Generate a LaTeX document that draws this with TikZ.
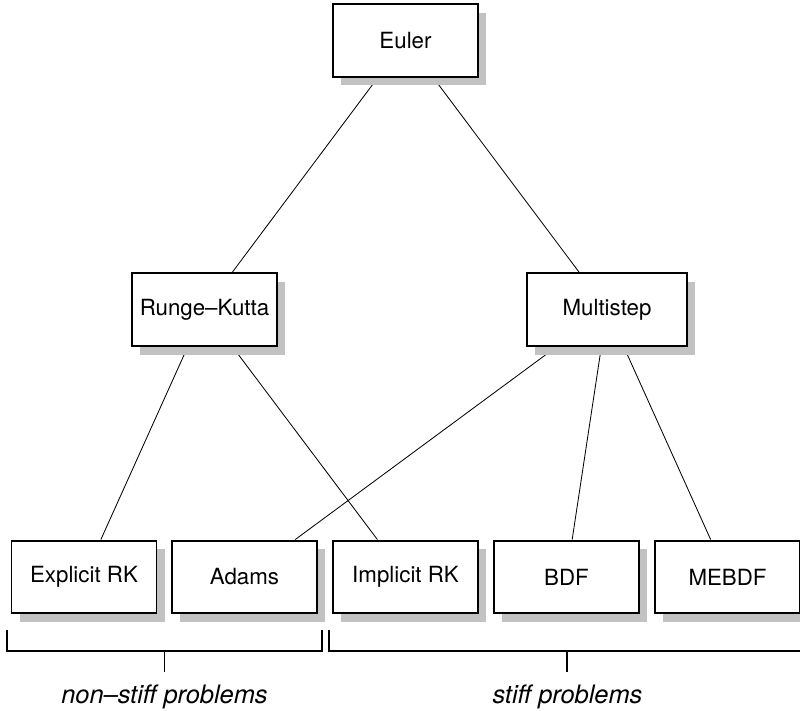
\documentclass[tikz,border=0pt]{standalone}
\usepackage{fontspec}
\setmainfont{TeX Gyre Heros}
\usetikzlibrary{shadows,backgrounds}
\begin{document}
\begin{tikzpicture}[x=0.48pt,y=-0.48pt,line width=0.75pt,
    method/.style={draw,line width=0.95pt,fill=white,
      minimum width=69.6pt,minimum height=35pt,
      font=\fontsize{10.7}{13}\selectfont,
      drop shadow={shadow xshift=3.9pt,shadow yshift=-4.1pt,fill=black!24,opacity=1}},
    wide/.style={minimum width=76.8pt},
    problems/.style={font=\fontsize{12.2}{14}\selectfont\itshape}]
      \useasboundingbox (0,0) rectangle (800,711);
      \node[method] (euler) at (405.5,40.5) {Euler};
      \node[method] (rk) at (204.5,309.5) {Runge--Kutta};
      \node[method,wide] (multi) at (607,309.5) {Multistep};
      \node[method] (erk) at (84,577) {Explicit RK};
      \node[method] (adams) at (244.5,577) {Adams};
      \node[method] (irk) at (405.5,577) {Implicit RK};
      \node[method] (bdf) at (566.5,577) {BDF};
      \node[method] (mebdf) at (727.5,577) {MEBDF};
      \begin{scope}[on background layer]
        \draw (euler) -- (rk);
        \draw (euler) -- (multi);
        \draw (rk) -- (erk);
        \draw (rk) -- (irk);
        \draw (multi) -- (adams);
        \draw (multi) -- (bdf);
        \draw (multi) -- (mebdf);
      \end{scope}
      % brackets
      \coordinate (nsleft) at (7,630);
      \coordinate (nsright) at (322,630);
      \coordinate (nstick) at (164.5,651);
      \coordinate (sleft) at (329,630);
      \coordinate (sright) at (812,630);
      \coordinate (stick) at (567,651);
      \node[problems] (nonstiff) at (164.5,697) {non--stiff problems};
      \node[problems] (stiff) at (567.5,697) {stiff problems};
      \draw (nsleft) |- (nstick) -| (nsright);
      \draw (nstick) -- ++(0,21);
      \draw (sleft) |- (stick) -| (sright);
      \draw (stick) -- ++(0,21);
    \end{tikzpicture}
\end{document}
